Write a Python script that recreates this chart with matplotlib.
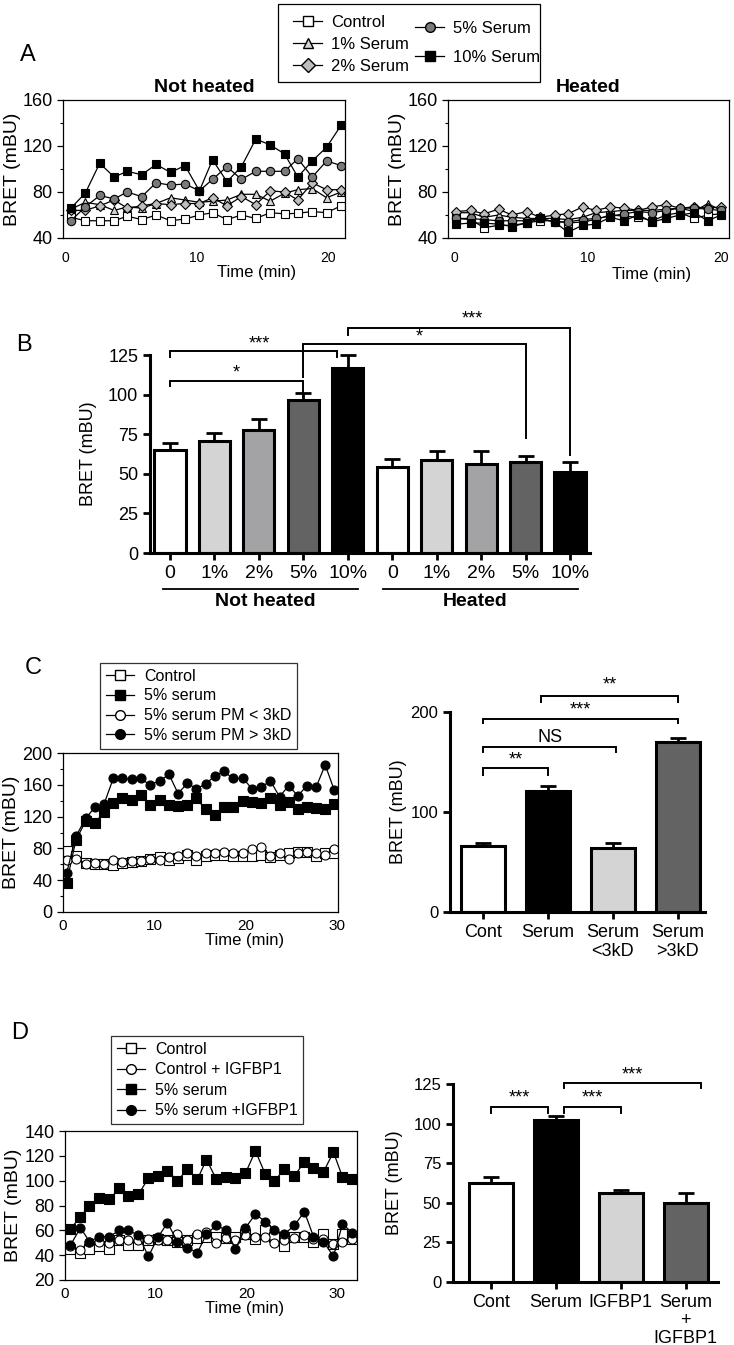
import matplotlib
matplotlib.use("Agg")
import matplotlib.pyplot as plt
from matplotlib.lines import Line2D
from matplotlib.patches import Rectangle
from matplotlib.ticker import MultipleLocator

plt.rcParams['font.family'] = ['Liberation Sans', 'DejaVu Sans']

W, H = 734, 1345

# ---------- data: panel A (time courses, 20 reads) ----------
t_nh = [0.4, 1.5, 2.6, 3.7, 4.7, 5.8, 6.9, 8.0, 9.1, 10.2,
        11.2, 12.3, 13.4, 14.5, 15.6, 16.7, 17.7, 18.8, 19.9, 21.0]
nh_control = [58, 55, 55, 55, 59, 56, 60, 55, 56.5, 60, 62, 56, 60, 57, 62, 61, 61.5, 63, 62, 68]
nh_1pct = [65, 71, 69, 64, 67, 66, 70, 75, 73, 71, 72, 73, 78, 78, 72, 79, 82, 83, 75, 80]
nh_2pct = [64, 64, 68, 73, 66, 68, 70, 69, 70, 70, 75, 68, 76, 69, 81, 80, 73, 88, 82, 82]
nh_5pct = [55, 67, 77, 74, 80, 76, 88, 86, 87, 81, 91, 102, 91, 98, 98, 98, 109, 93, 107, 103]
nh_10pct = [66, 79, 105, 93, 98, 95, 104, 97, 103, 81, 108, 89, 102, 126, 121, 113, 93, 107, 119, 138]

t_h = [0.1, 1.2, 2.2, 3.3, 4.3, 5.4, 6.4, 7.5, 8.5, 9.6,
       10.6, 11.7, 12.7, 13.8, 14.8, 15.9, 16.9, 18.0, 19.0, 20.0]
h_control = [57, 56, 49, 51, 51, 53, 55, 55, 53, 54, 56, 60, 59, 58, 55, 60, 62, 57, 60, 61]
h_1pct = [62, 62, 58, 60, 58, 57, 57, 57, 56, 58, 62, 63, 64, 64, 64, 65, 66, 63, 70, 64]
h_2pct = [63, 64, 61, 65, 60, 63, 58, 60, 61, 67, 64, 67, 66, 64, 67, 69, 66, 67, 66, 67]
h_5pct = [57, 57, 56, 55, 55, 55, 57, 54, 54, 56, 57, 59, 61, 63, 62, 64, 66, 66, 65, 64]
h_10pct = [52, 53, 53, 52, 50, 53, 57, 54, 45, 51, 52, 58, 55, 60, 54, 57, 60, 62, 55, 60]

# ---------- panel B ----------
b_labels = ['0', '1%', '2%', '5%', '10%', '0', '1%', '2%', '5%', '10%']
b_means = [65, 71, 78, 96.5, 117, 54.6, 59, 56.5, 57.8, 51.4]
b_errs = [4.4, 5, 7, 4.5, 8, 5, 5.7, 8.2, 3.7, 6.4]

# ---------- panel C ----------
t_c = [0.4, 1.4, 2.5, 3.5, 4.5, 5.5, 6.5, 7.5, 8.5, 9.5,
       10.6, 11.6, 12.6, 13.6, 14.6, 15.6, 16.6, 17.6, 18.6, 19.7,
       20.7, 21.7, 22.7, 23.7, 24.7, 25.7, 26.7, 27.7, 28.7, 29.7]
c_control = [77, 70, 62, 60, 60, 59, 62, 63, 64, 67, 69, 65, 68, 72, 66,
             71, 72, 72, 71, 71, 70, 72, 69, 72, 74, 75, 75, 70, 74, 74]
c_serum = [37, 90, 115, 112, 126, 137, 143, 141, 147, 134, 141, 135, 133, 135, 143,
           129, 122, 132, 132, 140, 138, 137, 144, 135, 138, 130, 132, 131, 130, 136]
c_low = [65, 67, 61, 62, 61, 65, 63, 64, 64, 67, 65, 69, 71, 74, 71,
         74, 74, 76, 74, 74, 79, 82, 71, 74, 67, 74, 76, 74, 72, 79]
c_high = [49, 95, 118, 132, 136, 168, 168, 167, 168, 160, 165, 173, 149, 162, 155,
          161, 171, 177, 168, 168, 155, 157, 165, 145, 159, 146, 159, 157, 185, 153]

c_bar_labels = ['Cont', 'Serum', 'Serum\n<3kD', 'Serum\n>3kD']
c_bar_means = [66.5, 121, 64, 170]
c_bar_errs = [2.5, 5.5, 5, 4]

# ---------- panel D ----------
t_d = [0.6, 1.7, 2.7, 3.8, 4.9, 6.0, 7.0, 8.1, 9.2, 10.3,
       11.3, 12.4, 13.5, 14.6, 15.6, 16.7, 17.8, 18.8, 19.9, 21.0,
       22.1, 23.1, 24.2, 25.3, 26.4, 27.4, 28.5, 29.6, 30.6, 31.7]
d_control = [45, 42, 45, 47, 45, 52, 48, 48, 52, 53, 52, 51, 52, 54, 55,
             55, 54, 55, 57, 53, 60, 55, 47, 55, 55, 51, 57, 49, 57, 53]
d_control_igf = [47, 44, 51, 51, 50, 52, 52, 52, 53, 52, 52, 57, 52, 57, 59,
                 50, 54, 52, 56, 55, 55, 50, 52, 54, 56, 53, 53, 49, 51, 53]
d_serum = [61, 71, 80, 86, 85, 94, 88, 89, 102, 104, 108, 100, 109, 101, 117,
           101, 103, 102, 106, 124, 105, 100, 109, 104, 115, 110, 107, 123, 103, 101]
d_serum_igf = [48, 62, 51, 55, 55, 60, 60, 56, 39, 55, 66, 51, 46, 42, 57,
               64, 60, 45, 62, 73, 67, 60, 57, 64, 75, 55, 51, 39, 65, 58]

d_bar_labels = ['Cont', 'Serum', 'IGFBP1', 'Serum\n+\nIGFBP1']
d_bar_means = [62.5, 102, 56.5, 50]
d_bar_errs = [3.5, 2.5, 1.3, 6]

# colours
WHITE, LIGHT, MID, DARK, BLACK = 'white', '#d4d4d4', '#a3a3a6', '#636363', 'black'


def px_axes(fig, x0, y0, x1, y1):
    return fig.add_axes([x0 / W, 1 - y1 / H, (x1 - x0) / W, (y1 - y0) / H])


def ftext(fig, x, y, s, **kw):
    kw.setdefault('ha', 'center')
    kw.setdefault('va', 'center')
    fig.text(x / W, 1 - y / H, s, **kw)


def series(ax, t, y, fc, marker, ms=6):
    ax.plot(t, y, color='black', lw=0.9, marker=marker, ms=ms,
            mfc=fc, mec='black', mew=0.8)


def handle(lab, fc, mk, ms=7):
    return Line2D([], [], color='black', lw=0.9, marker=mk, mfc=fc, mec='black', ms=ms, label=lab)


def style_line_axes(ax):
    for s in ax.spines.values():
        s.set_linewidth(0.9)
    ax.tick_params(axis='both', labelsize=12, width=0.9, length=4)
    ax.tick_params(which='minor', length=2.5, width=0.8)


def bracket(ax, x1, x2, y, d1, d2, txt, ty, tx=None, fs=13):
    ax.plot([x1, x1, x2, x2], [d1, y, y, d2], color='black', lw=1.4,
            clip_on=False, solid_joinstyle='miter')
    if tx is None:
        tx = (x1 + x2) / 2
    ax.text(tx, ty, txt, ha='center', va='center', fontsize=fs)


def bars(ax, means, errs, colors, width=0.68):
    x = list(range(len(means)))
    ax.bar(x, means, width=width, color=colors, edgecolor='black', linewidth=2.2, zorder=2)
    ax.errorbar(x, means, yerr=[[0] * len(errs), errs], fmt='none', ecolor='black',
                elinewidth=2, capsize=6, capthick=2, zorder=1)
    for s in ['top', 'right']:
        ax.spines[s].set_visible(False)
    for s in ['left', 'bottom']:
        ax.spines[s].set_linewidth(2.2)
    ax.tick_params(axis='both', width=2, length=5, labelsize=13)
    return x


fig = plt.figure(figsize=(W / 100, H / 100), dpi=100)

# ================= A =================
markers_a = [('Control', WHITE, 's'), ('1% Serum', LIGHT, '^'), ('2% Serum', '#bdbdbd', 'D'),
             ('5% Serum', '#7a7a7a', 'o'), ('10% Serum', BLACK, 's')]

axA1 = px_axes(fig, 63, 100, 345, 238)
for (lab, fc, mk), y in zip(markers_a, [nh_control, nh_1pct, nh_2pct, nh_5pct, nh_10pct]):
    series(axA1, t_nh, y, fc, mk, ms=6 if mk != 'D' else 5.5)
axA1.set_xlim(-0.2, 21.3)
axA1.set_title('Not heated', fontsize=14, fontweight='bold', pad=6)

axA2 = px_axes(fig, 448, 100, 729, 238)
for (lab, fc, mk), y in zip(markers_a, [h_control, h_1pct, h_2pct, h_5pct, h_10pct]):
    series(axA2, t_h, y, fc, mk, ms=6 if mk != 'D' else 5.5)
axA2.set_xlim(-0.5, 20.6)
axA2.set_title('Heated', fontsize=14, fontweight='bold', pad=6)

for ax in (axA1, axA2):
    ax.set_ylim(40, 160)
    ax.set_yticks([40, 80, 120, 160])
    ax.yaxis.set_minor_locator(MultipleLocator(20))
    ax.set_xticks([0, 10, 20])
    style_line_axes(ax)
    ax.tick_params(axis='y', labelsize=13)
    ax.tick_params(axis='x', labelsize=10, length=0, pad=9)
    ax.set_ylabel('BRET (mBU)', fontsize=14, labelpad=1)

ftext(fig, 257, 272, 'Time (min)', fontsize=12)
ftext(fig, 652, 274, 'Time (min)', fontsize=12)

# legend A: box drawn by hand, two columns with their own spacing
fig.add_artist(Rectangle((278 / W, 1 - 82 / H), 262 / W, 78 / H, transform=fig.transFigure,
                         fill=False, edgecolor='black', lw=0.9))
fig.legend(handles=[handle(*m) for m in markers_a[:3]], loc='upper left',
           bbox_to_anchor=(285 / W, 1 - 7 / H), fontsize=12, frameon=False,
           handlelength=1.7, handletextpad=0.55, labelspacing=0.42, borderpad=0)
fig.legend(handles=[handle(*m) for m in markers_a[3:]], loc='upper left',
           bbox_to_anchor=(407 / W, 1 - 13 / H), fontsize=12, frameon=False,
           handlelength=1.7, handletextpad=0.55, labelspacing=0.8, borderpad=0)

ftext(fig, 28, 55, 'A', fontsize=17)

# ================= B =================
axB = px_axes(fig, 150, 300, 590, 553)
xb = bars(axB, b_means, b_errs, [WHITE, LIGHT, MID, DARK, BLACK] * 2, width=0.7)
axB.set_xlim(-0.45, 9.45)
axB.set_ylim(0, 160)
axB.set_yticks([0, 25, 50, 75, 100, 125])
axB.spines['left'].set_bounds(0, 125)
axB.set_xticks(xb)
axB.set_xticklabels(b_labels, fontsize=14)
axB.set_ylabel('BRET (mBU)', fontsize=13, labelpad=4)
axB.yaxis.set_label_coords(-0.12, 125 / 2 / 160)
bracket(axB, 0, 3, 109, 105.5, 99, '*', 114)
bracket(axB, 0, 3.75, 127.7, 124, 124, '***', 132, tx=2.0)
bracket(axB, 3, 8, 132, 111, 73, '*', 136.5, tx=5.6)
bracket(axB, 4, 9, 142, 138, 62, '***', 148, tx=6.8)

# group lines under B
for x0, x1, lab, xc in [(163, 358, 'Not heated', 265), (383, 578, 'Heated', 475)]:
    fig.add_artist(Line2D([x0 / W, x1 / W], [1 - 589 / H, 1 - 589 / H], color='black', lw=1.3))
    ftext(fig, xc, 602, lab, fontsize=14, fontweight='bold')

ftext(fig, 24, 345, 'B', fontsize=17)

# ================= C =================
axC1 = px_axes(fig, 63, 753, 338, 912)
series(axC1, t_c, c_control, WHITE, 's', ms=6.5)
series(axC1, t_c, c_serum, BLACK, 's', ms=6.5)
series(axC1, t_c, c_low, WHITE, 'o', ms=6.5)
series(axC1, t_c, c_high, BLACK, 'o', ms=6.5)
axC1.set_xlim(0, 30.1)
axC1.set_ylim(0, 200)
axC1.set_yticks([0, 40, 80, 120, 160, 200])
axC1.yaxis.set_minor_locator(MultipleLocator(20))
axC1.set_xticks([0, 10, 20, 30])
style_line_axes(axC1)
axC1.tick_params(axis='y', labelsize=13)
axC1.tick_params(axis='x', labelsize=11, length=0, pad=5)
axC1.set_ylabel('BRET (mBU)', fontsize=14, labelpad=2)
ftext(fig, 245, 940, 'Time (min)', fontsize=12)

handles_c = [handle(lab, fc, mk) for lab, fc, mk in
             [('Control', WHITE, 's'), ('5% serum', BLACK, 's'),
              ('5% serum PM < 3kD', WHITE, 'o'), ('5% serum PM > 3kD', BLACK, 'o')]]
fig.legend(handles=handles_c, loc='upper left', bbox_to_anchor=(92 / W, 1 - 655 / H),
           fontsize=11.5, frameon=True, fancybox=False, edgecolor='black',
           handlelength=1.8, handletextpad=0.6, labelspacing=0.3,
           borderpad=0.35).get_frame().set_linewidth(0.9)

axC2 = px_axes(fig, 450, 680, 705, 912)
xc = bars(axC2, c_bar_means, c_bar_errs, [WHITE, BLACK, LIGHT, DARK])
axC2.set_xlim(-0.51, 3.42)
axC2.set_ylim(0, 232)
axC2.set_yticks([0, 100, 200])
axC2.spines['left'].set_bounds(0, 200)
axC2.set_xticks(xc)
axC2.set_xticklabels(c_bar_labels, fontsize=13, va='top')
axC2.tick_params(axis='y', labelsize=12)
axC2.set_ylabel('BRET (mBU)', fontsize=13, labelpad=4)
axC2.yaxis.set_label_coords(-0.17, 100 / 232)
bracket(axC2, 0, 1, 144, 137, 137, '**', 152)
bracket(axC2, 0, 2.05, 165, 160, 160, 'NS', 175)
bracket(axC2, 0, 3, 193, 189, 189, '***', 202)
bracket(axC2, 0.9, 3, 216, 210, 210, '**', 227)

ftext(fig, 33, 668, 'C', fontsize=17)

# ================= D =================
axD1 = px_axes(fig, 65, 1131, 357, 1280)
series(axD1, t_d, d_control, WHITE, 's', ms=6.5)
series(axD1, t_d, d_control_igf, WHITE, 'o', ms=6.5)
series(axD1, t_d, d_serum, BLACK, 's', ms=6.5)
series(axD1, t_d, d_serum_igf, BLACK, 'o', ms=6.5)
axD1.set_xlim(0, 32.2)
axD1.set_ylim(20, 140)
axD1.set_yticks([20, 40, 60, 80, 100, 120, 140])
axD1.set_xticks([0, 10, 20, 30])
style_line_axes(axD1)
axD1.tick_params(axis='y', labelsize=13)
axD1.tick_params(axis='x', labelsize=11, length=0, pad=5)
axD1.set_ylabel('BRET (mBU)', fontsize=14, labelpad=2)
ftext(fig, 245, 1309, 'Time (min)', fontsize=12)

handles_d = [handle(lab, fc, mk) for lab, fc, mk in
             [('Control', WHITE, 's'), ('Control + IGFBP1', WHITE, 'o'),
              ('5% serum', BLACK, 's'), ('5% serum +IGFBP1', BLACK, 'o')]]
fig.legend(handles=handles_d, loc='upper left', bbox_to_anchor=(103 / W, 1 - 1028 / H),
           fontsize=11.5, frameon=True, fancybox=False, edgecolor='black',
           handlelength=1.8, handletextpad=0.6, labelspacing=0.35,
           borderpad=0.35).get_frame().set_linewidth(0.9)

axD2 = px_axes(fig, 453, 1065, 718, 1282)
xd = bars(axD2, d_bar_means, d_bar_errs, [WHITE, BLACK, LIGHT, DARK])
axD2.set_xlim(-0.59, 3.5)
axD2.set_ylim(0, 137)
axD2.set_yticks([0, 25, 50, 75, 100, 125])
axD2.spines['left'].set_bounds(0, 125)
axD2.set_xticks(xd)
axD2.set_xticklabels(d_bar_labels, fontsize=13, va='top', linespacing=1.1)
axD2.tick_params(axis='y', labelsize=12)
axD2.set_ylabel('BRET (mBU)', fontsize=13, labelpad=4)
axD2.yaxis.set_label_coords(-0.19, 62.5 / 137)
bracket(axD2, 0, 0.88, 110.7, 107, 107, '***', 116)
bracket(axD2, 1.12, 2.0, 110.7, 107, 107, '***', 116)
bracket(axD2, 1.12, 3.24, 125.6, 122.5, 122.5, '***', 130.7)

ftext(fig, 20, 1033, 'D', fontsize=17)

fig.savefig('out.png', dpi=100)
